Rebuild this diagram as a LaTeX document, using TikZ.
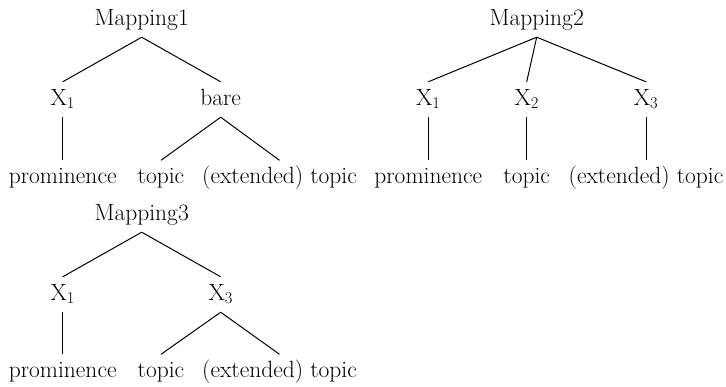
\documentclass[tikz,border=0pt]{standalone}
\tikzset{
  lbl/.style={anchor=base, font=\fontsize{23.5pt}{28pt}\selectfont,
    text height=16pt, text depth=5pt, inner xsep=0pt, inner ysep=7pt},
  edge/.style={draw, line width=1pt}
}
\begin{document}
\begin{tikzpicture}[x=1pt, y=-1pt]
\useasboundingbox (0,0) rectangle (726,386);

% Mapping1
\node[lbl] (m1) at (141.7,25) {Mapping1};
\node[lbl] (m1a) at (62.7,105) {X\textsubscript{1}};
\node[lbl] (m1b) at (220.7,105) {bare};
\node[lbl] (m1a1) at (62.7,183.5) {prominence};
\node[lbl] (m1b1) at (161,183.5) {topic};
\node[lbl] (m1b2) at (279.5,183.5) {(extended) topic};
\draw[edge] (m1.south) -- (m1a.north);
\draw[edge] (m1.south) -- (m1b.north);
\draw[edge] (m1a.south) -- (m1a1.north);
\draw[edge] (m1b.south) -- (m1b1.north);
\draw[edge] (m1b.south) -- (m1b2.north);

% Mapping2
\node[lbl] (m2) at (536.7,25) {Mapping2};
\node[lbl] (m2a) at (428.3,105) {X\textsubscript{1}};
\node[lbl] (m2b) at (526.7,105) {X\textsubscript{2}};
\node[lbl] (m2c) at (646,105) {X\textsubscript{3}};
\node[lbl] (m2a1) at (428.3,183.5) {prominence};
\node[lbl] (m2b1) at (526.7,183.5) {topic};
\node[lbl] (m2c1) at (646,183.5) {(extended) topic};
\draw[edge] (m2.south) -- (m2a.north);
\draw[edge] (m2.south) -- (m2b.north);
\draw[edge] (m2.south) -- (m2c.north);
\draw[edge] (m2a.south) -- (m2a1.north);
\draw[edge] (m2b.south) -- (m2b1.north);
\draw[edge] (m2c.south) -- (m2c1.north);

% Mapping3
\node[lbl] (m3) at (141.7,220) {Mapping3};
\node[lbl] (m3a) at (62.7,300) {X\textsubscript{1}};
\node[lbl] (m3b) at (220.7,300) {X\textsubscript{3}};
\node[lbl] (m3a1) at (62.7,377.5) {prominence};
\node[lbl] (m3b1) at (161,377.5) {topic};
\node[lbl] (m3b2) at (279.5,377.5) {(extended) topic};
\draw[edge] (m3.south) -- (m3a.north);
\draw[edge] (m3.south) -- (m3b.north);
\draw[edge] (m3a.south) -- (m3a1.north);
\draw[edge] (m3b.south) -- (m3b1.north);
\draw[edge] (m3b.south) -- (m3b2.north);
\end{tikzpicture}
\end{document}
